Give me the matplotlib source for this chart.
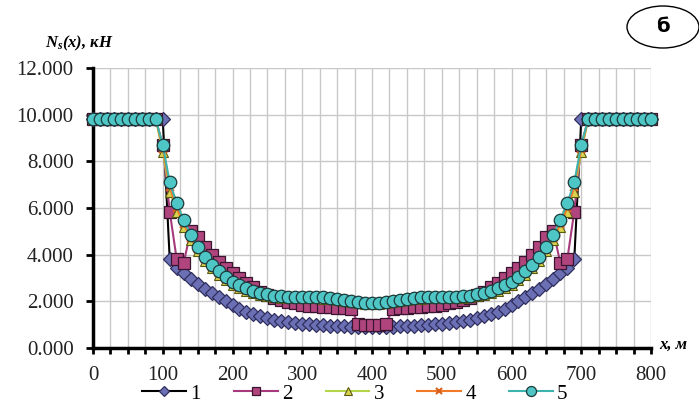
import matplotlib
matplotlib.use("Agg")
import matplotlib.pyplot as plt
from matplotlib.patches import Ellipse
from matplotlib.ticker import MultipleLocator, FormatStrFormatter

# координаты по длине, м
x = [0, 10, 20, 30, 40, 50, 60, 70, 80, 90, 100, 110, 120, 130, 140, 150, 160, 170, 180, 190,
     200, 210, 220, 230, 240, 250, 260, 270, 280, 290, 300, 310, 320, 330, 340, 350, 360, 370, 380, 390,
     400, 410, 420, 430, 440, 450, 460, 470, 480, 490, 500, 510, 520, 530, 540, 550, 560, 570, 580, 590,
     600, 610, 620, 630, 640, 650, 660, 670, 680, 690, 700, 710, 720, 730, 740, 750, 760, 770, 780, 790, 800]

s1 = [9.8, 9.8, 9.8, 9.8, 9.8, 9.8, 9.8, 9.8, 9.8, 9.8, 9.8, 3.8, 3.45, 3.2, 2.95, 2.75, 2.55, 2.37, 2.18, 2.0,
      1.83, 1.68, 1.56, 1.46, 1.37, 1.29, 1.22, 1.16, 1.11, 1.07, 1.04, 1.01, 0.99, 0.97, 0.95, 0.94, 0.93, 0.92, 0.91, 0.9,
      0.9, 0.9, 0.91, 0.92, 0.93, 0.94, 0.95, 0.97, 0.99, 1.01, 1.04, 1.07, 1.11, 1.16, 1.22, 1.29, 1.37, 1.46, 1.56, 1.68,
      1.83, 2.0, 2.18, 2.37, 2.55, 2.75, 2.95, 3.2, 3.45, 3.8, 9.8, 9.8, 9.8, 9.8, 9.8, 9.8, 9.8, 9.8, 9.8, 9.8, 9.8]

s2 = [9.8, 9.8, 9.8, 9.8, 9.8, 9.8, 9.8, 9.8, 9.8, 9.8, 8.7, 5.85, 3.8, 3.65, 5.0, 4.75, 4.35, 4.0, 3.7, 3.42,
      3.2, 3.0, 2.8, 2.6, 2.42, 2.27, 2.14, 2.04, 1.97, 1.91, 1.86, 1.82, 1.79, 1.76, 1.74, 1.72, 1.7, 1.68, 1.05, 1.0,
      0.98, 1.0, 1.05, 1.68, 1.7, 1.72, 1.74, 1.76, 1.79, 1.82, 1.86, 1.91, 1.97, 2.04, 2.14, 2.27, 2.42, 2.6, 2.8, 3.0,
      3.2, 3.42, 3.7, 4.0, 4.35, 4.75, 5.0, 3.65, 3.8, 5.85, 8.7, 9.8, 9.8, 9.8, 9.8, 9.8, 9.8, 9.8, 9.8, 9.8, 9.8]

s3 = [9.8, 9.8, 9.8, 9.8, 9.8, 9.8, 9.8, 9.8, 9.8, 9.8, 8.4, 6.7, 5.85, 5.2, 4.62, 4.15, 3.75, 3.42, 3.14, 2.9,
      2.72, 2.57, 2.45, 2.35, 2.28, 2.22, 2.18, 2.16, 2.15, 2.15, 2.15, 2.15, 2.14, 2.12, 2.09, 2.05, 2.0, 1.96, 1.92, 1.89,
      1.88, 1.89, 1.92, 1.96, 2.0, 2.05, 2.09, 2.12, 2.14, 2.15, 2.15, 2.15, 2.15, 2.16, 2.18, 2.22, 2.28, 2.35, 2.45, 2.57,
      2.72, 2.9, 3.14, 3.42, 3.75, 4.15, 4.62, 5.2, 5.85, 6.7, 8.4, 9.8, 9.8, 9.8, 9.8, 9.8, 9.8, 9.8, 9.8, 9.8, 9.8]

s4 = [9.8, 9.8, 9.8, 9.8, 9.8, 9.8, 9.8, 9.8, 9.8, 9.8, 8.55, 6.9, 6.0, 5.32, 4.72, 4.24, 3.82, 3.49, 3.2, 2.96,
      2.78, 2.63, 2.5, 2.4, 2.33, 2.26, 2.21, 2.19, 2.18, 2.18, 2.18, 2.18, 2.17, 2.15, 2.12, 2.07, 2.02, 1.98, 1.94, 1.91,
      1.9, 1.91, 1.94, 1.98, 2.02, 2.07, 2.12, 2.15, 2.17, 2.18, 2.18, 2.18, 2.18, 2.19, 2.21, 2.26, 2.33, 2.4, 2.5, 2.63,
      2.78, 2.96, 3.2, 3.49, 3.82, 4.24, 4.72, 5.32, 6.0, 6.9, 8.55, 9.8, 9.8, 9.8, 9.8, 9.8, 9.8, 9.8, 9.8, 9.8, 9.8]

s5 = [9.8, 9.8, 9.8, 9.8, 9.8, 9.8, 9.8, 9.8, 9.8, 9.8, 8.7, 7.1, 6.2, 5.5, 4.85, 4.35, 3.9, 3.57, 3.28, 3.03,
      2.85, 2.7, 2.56, 2.45, 2.37, 2.3, 2.25, 2.22, 2.2, 2.2, 2.2, 2.2, 2.2, 2.18, 2.15, 2.1, 2.05, 2.0, 1.96, 1.93,
      1.92, 1.93, 1.96, 2.0, 2.05, 2.1, 2.15, 2.18, 2.2, 2.2, 2.2, 2.2, 2.2, 2.22, 2.25, 2.3, 2.37, 2.45, 2.56, 2.7,
      2.85, 3.03, 3.28, 3.57, 3.9, 4.35, 4.85, 5.5, 6.2, 7.1, 8.7, 9.8, 9.8, 9.8, 9.8, 9.8, 9.8, 9.8, 9.8, 9.8, 9.8]

labels = ['1', '2', '3', '4', '5']

plt.rcParams['mathtext.fontset'] = 'custom'
plt.rcParams['mathtext.it'] = 'Liberation Serif:italic:bold'
plt.rcParams['mathtext.rm'] = 'Liberation Serif:bold'

fig = plt.figure(figsize=(6.99, 4.16), dpi=100)
ax = fig.add_axes([93 / 699, 1 - 348 / 416, 558 / 699, 280 / 416])

# стили серий
ax.plot(x, s1, color='black', lw=1.5, marker='D', ms=7, mfc='#6B70B5', mec='#2E2F5C', mew=0.9,
        label=labels[0], clip_on=False, zorder=3)
ax.plot(x, s2, color='#A63A7C', lw=1.5, marker='s', ms=8, mfc='#B0457E', mec='#3A1530', mew=0.9,
        label=labels[1], clip_on=False, zorder=4)
ax.plot(x, s3, color='#B5D44A', lw=1.5, marker='^', ms=7, mfc='#D9D24E', mec='#5A5A10', mew=0.8,
        label=labels[2], clip_on=False, zorder=5)
ax.plot(x, s4, color='#F07A28', lw=1.5, marker='x', ms=6, mec='#D8601A', mew=1.5,
        label=labels[3], clip_on=False, zorder=6)
ax.plot(x, s5, color='#3DB3AD', lw=1.5, marker='o', ms=9, mfc='#4FC6C6', mec='#1C3A3A', mew=0.9,
        label=labels[4], clip_on=False, zorder=7)

ax.set_xlim(0, 800)
ax.set_ylim(0, 12)
ax.xaxis.set_major_locator(MultipleLocator(100))
ax.xaxis.set_minor_locator(MultipleLocator(25))
ax.yaxis.set_major_locator(MultipleLocator(2))
ax.yaxis.set_major_formatter(FormatStrFormatter('%.3f'))

ax.grid(which='both', axis='x', color='#C8C8C8', lw=1)
ax.grid(which='major', axis='y', color='#C8C8C8', lw=1)
ax.set_axisbelow(True)

for s in ['top', 'right']:
    ax.spines[s].set_visible(False)
for s in ['left', 'bottom']:
    ax.spines[s].set_linewidth(2.5)

ax.tick_params(axis='x', which='both', direction='out', length=4, width=2, pad=9)
ax.tick_params(axis='y', direction='out', length=5, width=2, pad=9)
for lab in ax.get_xticklabels() + ax.get_yticklabels():
    lab.set_fontfamily('Liberation Serif')
    lab.set_fontsize(15)
    lab.set_color('#222222')

fig.text(45 / 699, 1 - 47 / 416, r'$N_s$(x), кН', family='Liberation Serif', fontweight='bold',
         style='italic', fontsize=12, ha='left', va='baseline')
fig.text(659 / 699, 1 - 349 / 416, 'x, м', family='Liberation Serif', fontweight='bold',
         style='italic', fontsize=12, ha='left', va='baseline')

fig.patches.append(Ellipse((663 / 699, 1 - 27 / 416), 72 / 699, 42 / 416, transform=fig.transFigure,
                           facecolor='white', edgecolor='black', lw=1))
fig.text(663 / 699, 1 - 27 / 416, 'б', family='DejaVu Sans', fontweight='bold', fontsize=14,
         ha='center', va='center')

fig.legend(loc='center', bbox_to_anchor=(355 / 699, 1 - 394 / 416), ncol=5, frameon=False,
           prop={'family': 'Liberation Serif', 'size': 15}, handlelength=2.1, handletextpad=0.2,
           columnspacing=1.6, markerscale=0.8)

fig.savefig('out.png', dpi=100)
